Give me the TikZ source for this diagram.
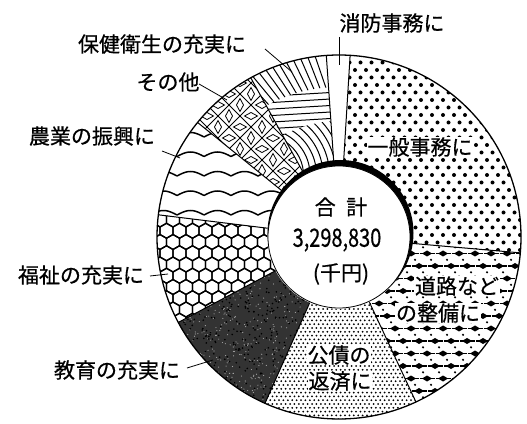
\documentclass[tikz,border=0pt]{standalone}
\usepackage{fontspec}
\setmainfont{Noto Sans CJK JP}[FakeBold=0.6,UprightFont=*,BoldFont=*]
\begin{document}
\begin{tikzpicture}[x=1pt,y=1pt,
  lbl/.style={font=\fontsize{21}{24}\selectfont\bfseries, inner sep=1pt},
  inlbl/.style={lbl, fill=white, inner sep=0.6pt},
  ctr/.style={font=\fontsize{21}{24}\selectfont\bfseries, inner sep=0pt},
  leader/.style={line width=0.8pt},
  bnd/.style={line width=1pt}]
\useasboundingbox (0,0) rectangle (527,423);
\fill[white] (0,0) rectangle (527,423);
\def\sect#1#2{(#1:72pt) -- (#1:182pt) arc[start angle=#1,end angle=#2,radius=182pt] -- (#2:72pt) arc[start angle=#2,end angle=#1,radius=72pt] -- cycle}
\def\rsect#1#2#3#4{(#1:#3pt) -- (#1:#4pt) arc[start angle=#1,end angle=#2,radius=#4pt] -- (#2:#3pt) arc[start angle=#2,end angle=#1,radius=#3pt] -- cycle}
\begin{scope}[shift={(339,186)}]
% ---- general affairs: big dots
\begin{scope}
\clip \sect{355}{446.5};
\foreach \j in {0,...,27}{
  \pgfmathsetmacro\yy{-28+7.5*\j}
  \pgfmathsetmacro\xo{mod(\j,2)*5.5}
  \foreach \i in {0,...,18}{
    \fill (\xo+11*\i-6,\yy) circle[radius=2pt];
  }
}
\end{scope}
% ---- roads: arrow rows
\begin{scope}
\clip \sect{295}{355};
\foreach \j in {0,...,14}{
  \pgfmathsetmacro\yy{-4-12.5*\j}
  \pgfmathsetmacro\xo{mod(\j,2)*8}
  \foreach \i in {0,...,12}{
    \pgfmathsetmacro\xx{\xo+16*\i+16}
    \draw[line width=1.2pt] (\xx-7.5,\yy) -- (\xx+7.5,\yy);
    \fill (\xx-5,\yy) -- (\xx,\yy+3) -- (\xx+5,\yy) -- (\xx,\yy-3) -- cycle;
    \fill (\xx+4,\yy-6.3) circle[radius=1.2pt];
  }
}
\end{scope}
% ---- public debt: fine dots
\begin{scope}
\clip \sect{246}{295};
\foreach \j in {0,...,33}{
  \pgfmathsetmacro\yy{-186+3.8*\j}
  \pgfmathsetmacro\xo{mod(\j,2)*2.2}
  \foreach \i in {0,...,37}{
    \fill (\xo+4.4*\i-82,\yy) circle[radius=1pt];
  }
}
\end{scope}
% ---- education: dark speckled
\fill[black!80] \sect{208}{246};
\begin{scope}
\clip \sect{208}{246};
\pgfmathsetseed{7}
\foreach \k in {1,...,550}{
  \pgfmathsetmacro\rx{-168+142*rnd}
  \pgfmathsetmacro\ry{-172+145*rnd}
  \fill[gray!70] (\rx,\ry) circle[radius=0.6pt];
}
\foreach \k in {1,...,450}{
  \pgfmathsetmacro\rx{-168+142*rnd}
  \pgfmathsetmacro\ry{-172+145*rnd}
  \fill[black] (\rx,\ry) circle[radius=0.9pt];
}
\end{scope}
% ---- welfare: honeycomb
\begin{scope}
\clip \sect{173}{208};
\foreach \j in {0,...,11}{
  \pgfmathsetmacro\yy{-95+11.25*\j}
  \pgfmathsetmacro\xo{mod(\j,2)*6.5}
  \foreach \i in {0,...,10}{
    \pgfmathsetmacro\xx{-192+13*\i+\xo}
    \draw[line width=1.3pt] (\xx,\yy) +(90:7.5pt) -- +(150:7.5pt) -- +(210:7.5pt) -- +(270:7.5pt) -- +(330:7.5pt) -- +(30:7.5pt) -- cycle;
  }
}
\end{scope}
% ---- agriculture: waves
\begin{scope}
\clip \sect{141}{173};
\foreach \yy in {22,41.5,61,80.5,100,119.5}{
  \draw[line width=1.5pt] plot[domain=-190:-50,samples=150] (\x,{\yy+4.5*abs(sin((\x/27)*180))});
}
\end{scope}
% ---- others: diamond lattice
\begin{scope}
\clip \sect{119}{141};
\foreach \k in {-16,...,-2}{
  \draw[line width=0.8pt] (\k*22+40,40) -- (\k*22+200,200);
}
\foreach \k in {-6,...,8}{
  \draw[line width=0.8pt] (\k*22-40,40) -- (\k*22-200,200);
}
\foreach \a in {-16,...,-2}{
  \foreach \b in {-6,...,8}{
    \pgfmathsetmacro\cx{11*(\a+\b)+11}
    \pgfmathsetmacro\cy{11*(\b-\a)}
    \pgfmathsetmacro\hw{mod(\a,2)==0 ? 6.5 : 3.5}
    \pgfmathsetmacro\hh{mod(\a,2)==0 ? 3.5 : 6.5}
    \draw[line width=0.8pt] (\cx-\hw,\cy) -- (\cx,\cy+\hh) -- (\cx+\hw,\cy) -- (\cx,\cy-\hh) -- cycle;
  }
}
\end{scope}
% ---- health: weave
\begin{scope}
\clip \rsect{94}{119}{150}{182};
\foreach \a in {94,96.3,...,120}{
  \draw[line width=1pt] (\a:140pt) -- (\a+4:190pt);
}
\end{scope}
\begin{scope}
\clip \rsect{94}{119}{116}{150};
\foreach \yy in {100,106.5,...,160}{
  \draw[line width=1pt] (-100,\yy) -- (0,\yy+6);
}
\end{scope}
\begin{scope}
\clip \rsect{94}{119}{72}{116};
\foreach \rr in {20,26.5,...,110}{
  \draw[line width=1pt] (-75,62) ++(-10:\rr pt) arc[start angle=-10,end angle=90,radius=\rr pt];
}
\end{scope}
% ---- boundaries
\foreach \a in {86.5,94,119,141,173,208,246,295,355}{
  \draw[bnd] (\a:72pt) -- (\a:182pt);
}
\draw[line width=1.3pt] (0,0) circle[radius=182pt];
\fill[black] (1.5,4) circle[radius=73pt];
\draw[fill=white,line width=0.8pt] (0,0) circle[radius=71pt];
\end{scope}
% ---- labels
\node[lbl] (shobo) at (392,400) {消防事務に};
\node[lbl] (hoken) at (162,379) {保健衛生の充実に};
\node[lbl] (sonota) at (168,341) {その他};
\node[lbl] (nogyo) at (92,287) {農業の振興に};
\node[lbl] (fukushi) at (81,148) {福祉の充実に};
\node[lbl] (kyoiku) at (117,53) {教育の充実に};
\node[inlbl] (ippan) at (420,276) {一般事務に};
\node[inlbl] (doro1) at (457,137) {道路など};
\node[inlbl] (doro2) at (438,110) {の整備に};
\node[inlbl] (kosai1) at (339,68) {公債の};
\node[inlbl] (kosai2) at (340,42) {返済に};
\node[ctr] (gokei) at (341,216) {合\hspace{0.5em}計};
\node[ctr] (total) at (337,183) {\scalebox{0.95}[1.2]{3,298,830}};
\node[ctr] (unit) at (341,149) {(千円)};
% ---- leaders
\coordinate (shoboA) at (339,386);
\coordinate (shoboB) at (339,358);
\coordinate (hokenA) at (265,374);
\coordinate (hokenB) at (292,351);
\coordinate (sonotaA) at (199,339);
\coordinate (sonotaB) at (227,323);
\coordinate (nogyoA) at (162,272);
\coordinate (nogyoB) at (180,265);
\coordinate (fukushiA) at (150,147);
\coordinate (fukushiB) at (168,149);
\coordinate (kyoikuA) at (187,55);
\coordinate (kyoikuB) at (213,63);
\draw[leader] (shoboA) -- (shoboB);
\draw[leader] (hokenA) -- (hokenB);
\draw[leader] (sonotaA) -- (sonotaB);
\draw[leader] (nogyoA) -- (nogyoB);
\draw[leader] (fukushiA) -- (fukushiB);
\draw[leader] (kyoikuA) -- (kyoikuB);
\end{tikzpicture}
\end{document}
